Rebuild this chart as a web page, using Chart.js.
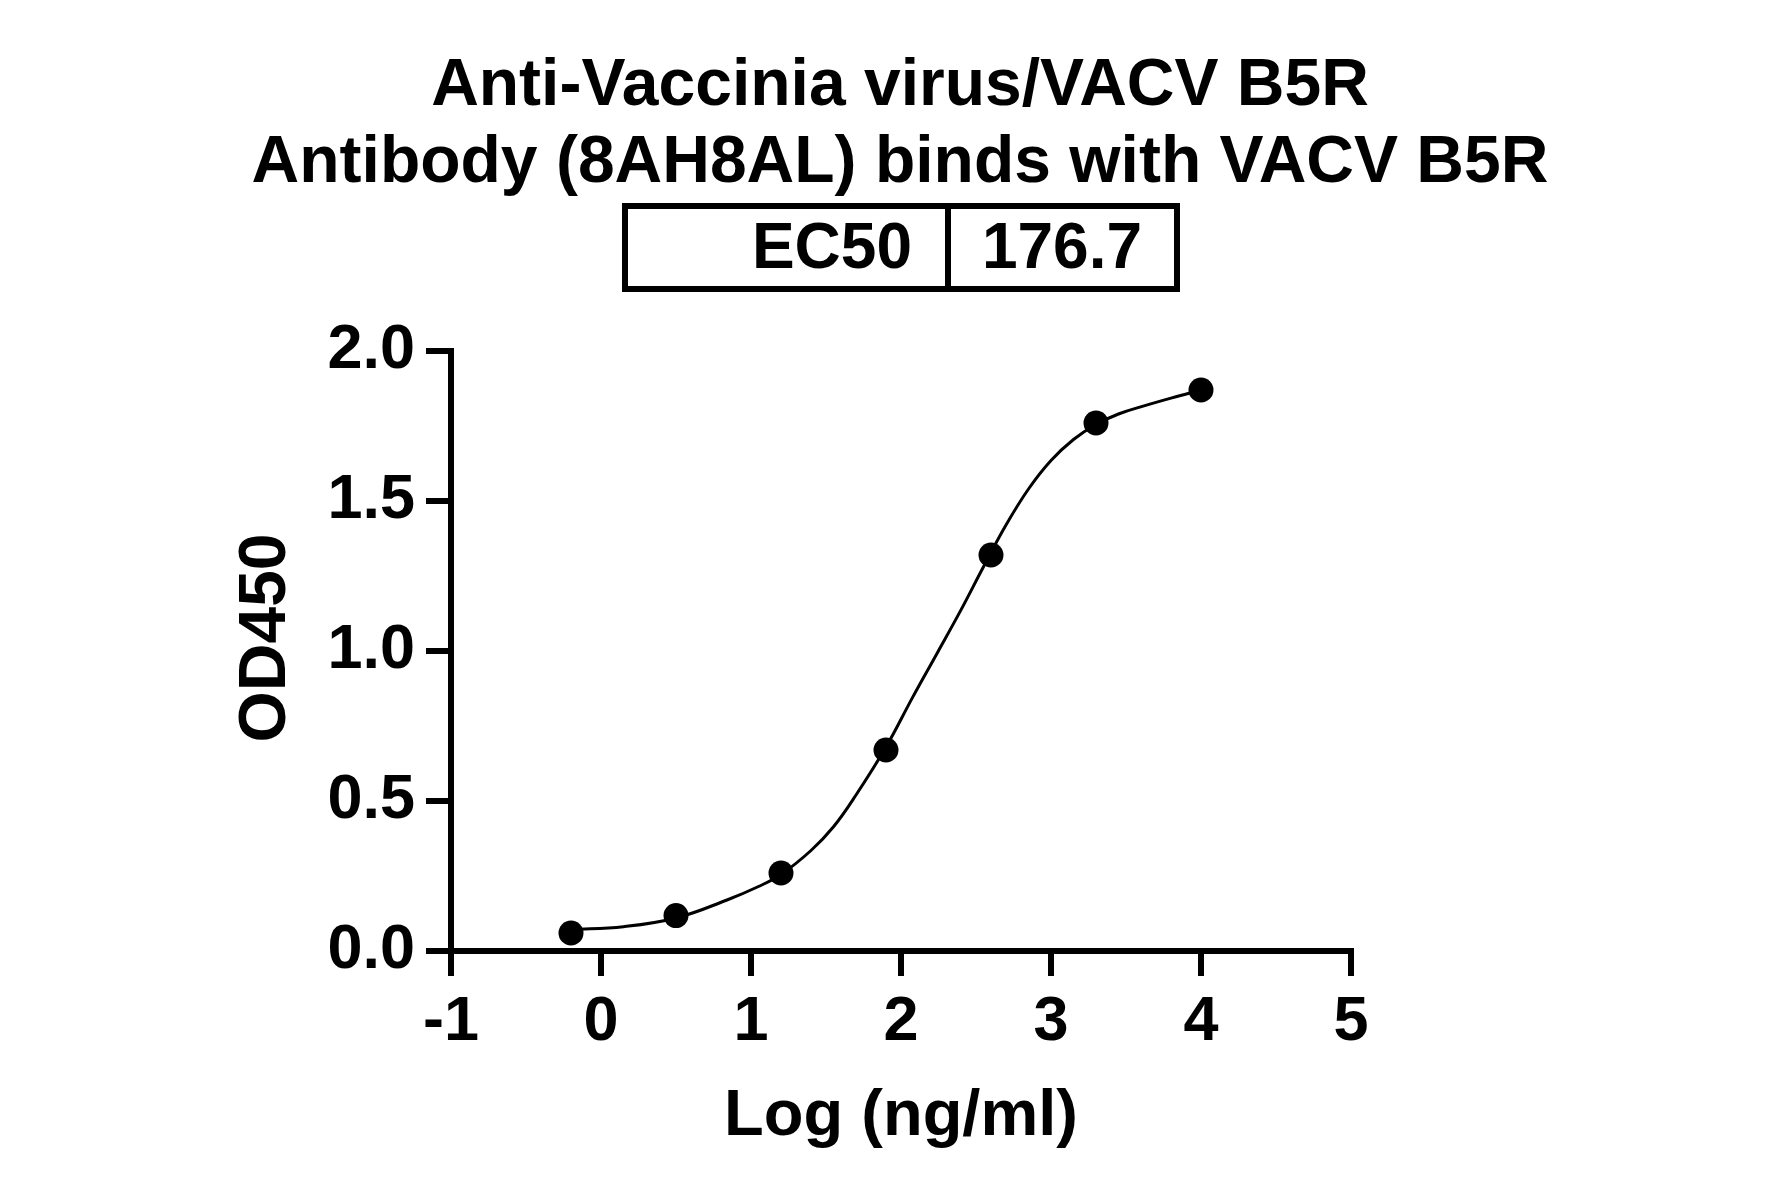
<!DOCTYPE html>
<html>
<head>
<meta charset="utf-8">
<script src="https://cdn.jsdelivr.net/npm/chart.js@4.4.1/dist/chart.umd.min.js"></script>
<style>
  html, body { margin: 0; padding: 0; background: #fff; }
  #wrap { width: 1781px; height: 1197px; }
</style>
</head>
<body>
<div id="wrap"><canvas id="grafik" width="1781" height="1197"></canvas></div>
<script>
// measured points (log conc vs OD450)
const logDosis = [-0.2, 0.5, 1.2, 1.9, 2.6, 3.3, 4.0];
const nilaiOD = [0.06, 0.118, 0.26, 0.67, 1.32, 1.76, 1.87];

// fitted curve
const kurvaLog = [-0.2, 0.15, 0.5, 0.84, 1.05, 1.2, 1.4, 1.55, 1.7, 1.9, 2.08, 2.24, 2.4, 2.55, 2.7, 2.85, 3.0, 3.15, 3.3, 3.45, 3.62, 3.8, 4.0];
const kurvaOD = [0.071, 0.081, 0.11, 0.17, 0.215, 0.255, 0.335, 0.414, 0.52, 0.68, 0.848, 0.992, 1.137, 1.281, 1.42, 1.54, 1.635, 1.705, 1.755, 1.79, 1.817, 1.843, 1.87];

const judulBaris = ["Anti-Vaccinia virus/VACV B5R", "Antibody (8AH8AL) binds with VACV B5R"];
const judulY = "OD450";
const labelEC50 = "EC50";
const nilaiEC50 = "176.7";

const FONT = '"Liberation Sans", Arial, sans-serif';
Chart.defaults.font.family = FONT;
Chart.defaults.color = '#000';

// title, y title + EC50 table drawn on top
const pluginJudul = {
    id: 'judul',
    beforeDraw(chart) {
        const c = chart.ctx;
        c.save();
        c.fillStyle = '#fff';
        c.fillRect(0, 0, chart.width, chart.height);
        c.restore();
    },
    afterDraw(chart) {
        const c = chart.ctx;
        c.save();
        c.fillStyle = '#000';
        c.font = 'bold 66px ' + FONT;
        c.textAlign = 'center';
        c.textBaseline = 'alphabetic';
        c.fillText(judulBaris[0], 900, 105);
        c.fillText(judulBaris[1], 900, 182);

        // table box
        c.strokeStyle = '#000';
        c.lineWidth = 6;
        c.strokeRect(625, 206, 552, 83);
        c.beginPath();
        c.moveTo(948, 206);
        c.lineTo(948, 289);
        c.stroke();

        c.font = 'bold 64px ' + FONT;
        c.textAlign = 'right';
        c.fillText(labelEC50, 912, 268);
        c.textAlign = 'center';
        c.fillText(nilaiEC50, 1062, 268);

        // y axis title, rotated
        c.translate(267, 638);
        c.rotate(-Math.PI / 2);
        c.font = 'bold 66px ' + FONT;
        c.textAlign = 'center';
        c.textBaseline = 'middle';
        c.fillText(judulY, 0, 0);
        c.restore();
    }
};

new Chart(document.getElementById('grafik'), {
    type: 'scatter',
    data: {
        datasets: [
            {
                label: 'OD450',
                data: logDosis.map((x, i) => ({ x: x, y: nilaiOD[i] })),
                pointRadius: 12.5,
                pointHoverRadius: 12.5,
                pointBackgroundColor: '#000',
                pointBorderColor: '#000',
                pointBorderWidth: 0,
                showLine: false,
                order: 1
            },
            {
                label: 'fit',
                type: 'line',
                data: kurvaLog.map((x, i) => ({ x: x, y: kurvaOD[i] })),
                borderColor: '#000',
                borderWidth: 3,
                pointRadius: 0,
                fill: false,
                tension: 0.4,
                order: 2
            }
        ]
    },
    options: {
        responsive: false,
        animation: false,
        devicePixelRatio: 1,
        layout: { padding: { left: 0, top: 351, right: 430, bottom: 0 } },
        plugins: {
            legend: { display: false },
            tooltip: { enabled: false },
            title: { display: false }
        },
        scales: {
            x: {
                type: 'linear',
                position: 'bottom',
                min: -1, max: 5,
                afterFit: s => { s.height = 246; },
                ticks: { stepSize: 1, padding: 9, font: { size: 63, weight: 'bold' }, color: '#000' },
                grid: { drawOnChartArea: false, tickLength: 25, lineWidth: 6, tickWidth: 6, tickColor: '#000', color: '#000' },
                border: { display: true, width: 6, color: '#000' },
                title: { display: true, text: 'Log (ng/ml)', color: '#000', font: { size: 65, weight: 'bold' }, padding: { top: 0, bottom: 41 } }
            },
            y: {
                type: 'linear',
                min: 0, max: 2,
                afterFit: s => { s.width = 451; },
                ticks: { stepSize: 0.5, padding: 11, font: { size: 63, weight: 'bold' }, color: '#000',
                         callback: v => v.toFixed(1) },
                grid: { drawOnChartArea: false, tickLength: 25, lineWidth: 6, tickWidth: 6, tickColor: '#000', color: '#000' },
                border: { display: true, width: 6, color: '#000' },
                title: { display: false }
            }
        }
    },
    plugins: [pluginJudul]
});
</script>
</body>
</html>
